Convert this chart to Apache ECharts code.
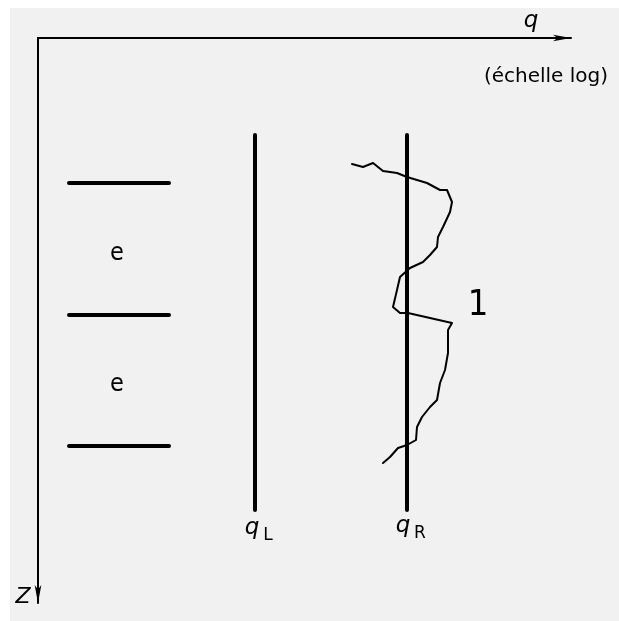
<!DOCTYPE html>
<html lang="fr">
<head>
<meta charset="UTF-8" />
<title>q - Z</title>
<script src="https://cdn.jsdelivr.net/npm/echarts@6/dist/echarts.min.js"></script>
<style>
  html, body { margin: 0; padding: 0; background: #fff; }
  #lienzo { width: 619px; height: 621px; }
</style>
</head>
<body>
<div id="lienzo"></div>
<script>
const couchesZ = [183, 315, 446];
const couchesX = [69, 169];
const qL = 255;
const qR = 407;
const qLignesZ = [135, 510];

// courbe 1 (q mesuré en fonction de Z)
const courbeQ = [352, 363, 373, 383, 397, 407, 427, 440, 447, 452, 450, 443, 438, 437, 430, 423, 410, 400, 397, 393, 400, 408, 452, 448, 448, 445, 440, 437, 430, 422, 417, 416, 407, 398, 390, 383];
const courbeZ = [164, 167, 163, 171, 173, 177, 183, 190, 190, 202, 212, 227, 237, 247, 255, 262, 268, 277, 290, 307, 313, 313, 323, 330, 353, 370, 383, 400, 407, 417, 427, 440, 445, 448, 457, 463];

// étiquettes
const etiquettesE = [[117, 253], [117, 384]];
const etiquetteCourbe = [478, 306];

const police = 'DejaVu Sans';
const policeEtroite = 'DejaVu Sans Condensed';
const noir = '#000';

let lienzo = document.getElementById('lienzo');
let myChart = echarts.init(lienzo);

function ligne(points, largeur) {
    return {
        type: 'line',
        data: points,
        symbol: 'none',
        silent: true,
        lineStyle: { color: noir, width: largeur, cap: 'round', join: 'round' }
    };
}

function texte(pos, txt, style) {
    return {
        type: 'scatter',
        data: [pos],
        symbolSize: 0,
        silent: true,
        itemStyle: { opacity: 1 },
        label: Object.assign({
            show: true,
            position: 'inside',
            formatter: txt,
            color: noir,
            opacity: 1,
            fontFamily: police
        }, style)
    };
}

let series = [];
couchesZ.forEach((z) => {
    series.push(ligne([[couchesX[0], z], [couchesX[1], z]], 4));
});
series.push(ligne([[qL, qLignesZ[0]], [qL, qLignesZ[1]]], 4));
series.push(ligne([[qR, qLignesZ[0]], [qR, qLignesZ[1]]], 4));
series.push(ligne(courbeQ.map((q, i) => [q, courbeZ[i]]), 2));

etiquettesE.forEach((p) => series.push(texte(p, 'e', { fontSize: 25, fontFamily: policeEtroite })));
series.push(texte(etiquetteCourbe, '1', { fontSize: 36, fontFamily: policeEtroite }));
series.push(texte([252, 528], 'q', { fontSize: 23, fontStyle: 'italic' }));
series.push(texte([268, 536], 'L', { fontSize: 17 }));
series.push(texte([403, 526], 'q', { fontSize: 23, fontStyle: 'italic' }));
series.push(texte([420, 534], 'R', { fontSize: 17 }));

myChart.setOption({
    animation: false,
    backgroundColor: '#fff',
    graphic: [
        { type: 'rect', z: -10, shape: { x: 10, y: 8, width: 609, height: 613 }, style: { fill: '#f1f1f1' } },
        { type: 'text', x: 531, y: 21, style: { text: 'q', font: 'italic 23px "' + police + '"', fill: noir, align: 'center', verticalAlign: 'middle' } },
        { type: 'text', x: 546, y: 77, style: { text: '(échelle log)', font: '20px "' + police + '"', fill: noir, align: 'center', verticalAlign: 'middle' } },
        { type: 'text', x: 23, y: 597, style: { text: 'Z', font: 'italic 22px "' + police + '"', fill: noir, align: 'center', verticalAlign: 'middle' } }
    ],
    grid: { left: 38, top: 38, width: 533, height: 565 },
    xAxis: {
        type: 'value',
        position: 'top',
        min: 38,
        max: 571,
        axisLine: { show: true, symbol: ['none', 'arrow'], symbolSize: [5, 18], lineStyle: { color: noir, width: 2 } },
        axisTick: { show: false },
        axisLabel: { show: false },
        splitLine: { show: false }
    },
    yAxis: {
        type: 'value',
        inverse: true,
        position: 'left',
        min: 38,
        max: 603,
        axisLine: { show: true, symbol: ['arrow', 'none'], symbolSize: [5, 18], lineStyle: { color: noir, width: 2 } },
        axisTick: { show: false },
        axisLabel: { show: false },
        splitLine: { show: false }
    },
    series: series
});
</script>
</body>
</html>
